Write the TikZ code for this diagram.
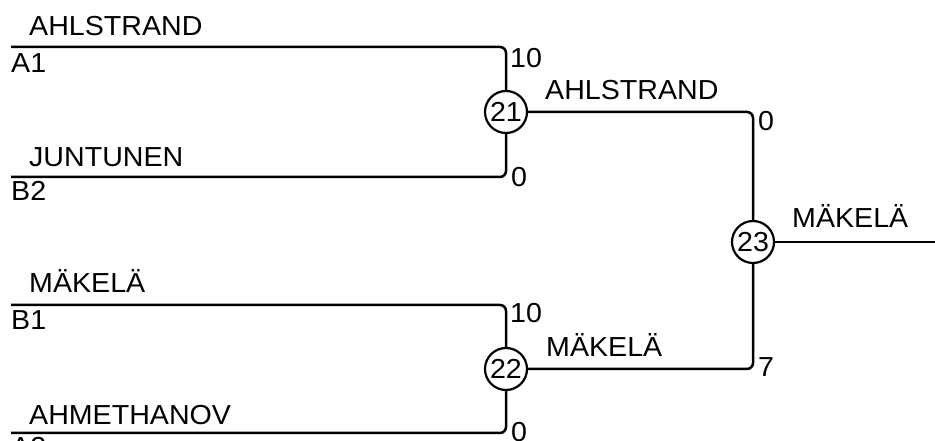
\documentclass[tikz,border=0pt]{standalone}
\usepackage{fontspec}
\setmainfont[FakeStretch=1.04]{Liberation Sans}
\begin{document}
\begin{tikzpicture}[x=1pt,y=1pt,
  lbl/.style={anchor=base west,inner sep=0pt,font=\fontsize{27.5}{30}\selectfont},
  match/.style={circle,draw,line width=2.2pt,minimum size=42pt,inner sep=0pt,font=\fontsize{27.5}{30}\selectfont},
  wire/.style={line width=2.5pt,rounded corners=6pt}]
\useasboundingbox (0,0) rectangle (935,441);
% match circles
\node[match] (c21) at (506,329) {21};
\node[match] (c22) at (506,72) {22};
\node[match] (c23) at (753,199) {23};
% free ends
\coordinate (a1s) at (11,394);
\coordinate (b2s) at (11,264);
\coordinate (b1s) at (11,136);
\coordinate (a2s) at (11,8);
\coordinate (fin) at (935,199);
% connectors
\draw[wire] (a1s) -| (c21);
\draw[wire] (b2s) -| (c21);
\draw[wire] (b1s) -| (c22);
\draw[wire] (a2s) -| (c22);
\draw[wire] (c21) -| (c23);
\draw[wire] (c22) -| (c23);
\draw[wire] (c23) -- (fin);
% left labels
\node[lbl] (n1) at (29,405) {AHLSTRAND};
\node[lbl] (s1) at (11,368) {A1};
\node[lbl] (n2) at (29,274) {JUNTUNEN};
\node[lbl] (s2) at (11,240) {B2};
\node[lbl] (n3) at (29,148) {MÄKELÄ};
\node[lbl] (s3) at (11,111) {B1};
\node[lbl] (n4) at (29,16) {AHMETHANOV};
\node[lbl] (s4) at (11,-16) {A2};
% scores
\node[lbl] (p1) at (510,373) {10};
\node[lbl] (p2) at (511,254) {0};
\node[lbl] (p3) at (510,118) {10};
\node[lbl] (p4) at (511,-1) {0};
\node[lbl] (p5) at (758,310) {0};
\node[lbl] (p6) at (758,64) {7};
% winners
\node[lbl] (w1) at (545,341) {AHLSTRAND};
\node[lbl] (w2) at (546,84) {MÄKELÄ};
\node[lbl] (w3) at (792,213) {MÄKELÄ};
\end{tikzpicture}
\end{document}
